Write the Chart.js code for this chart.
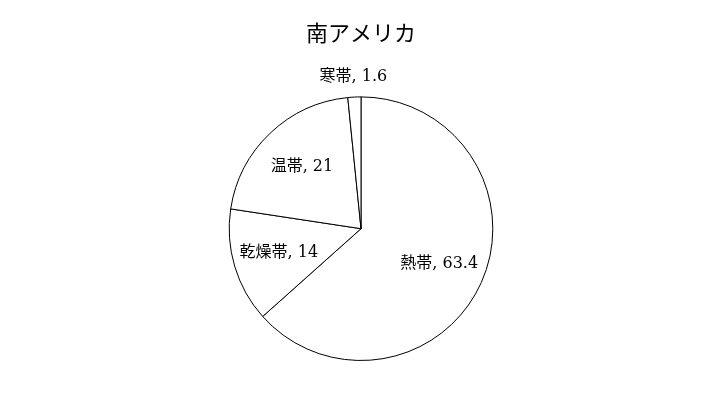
<!DOCTYPE html>
<html>
<head>
<meta charset="utf-8">
<script src="https://cdn.jsdelivr.net/npm/chart.js@4"></script>
<style>
    html, body { margin: 0; padding: 0; background: #fff; }
    #wrap { width: 722px; height: 408px; }
</style>
</head>
<body>
<div id="wrap"><canvas id="pieChart"></canvas></div>
<script>
// Data
const zones = ['熱帯', '乾燥帯', '温帯', '寒帯'];
const shares = [63.4, 14, 21, 1.6];

const TITLE_FONT = '"Liberation Serif", "Noto Sans CJK JP", serif';
const LABEL_FONT = '"DejaVu Serif", "Noto Sans CJK JP", serif';

// Draws "name, value" labels; small slices go outside the pie
const sliceLabels = {
    id: 'sliceLabels',
    afterDatasetsDraw(chart) {
        const ctx = chart.ctx;
        const meta = chart.getDatasetMeta(0);
        ctx.save();
        ctx.font = '16px ' + LABEL_FONT;
        ctx.fillStyle = '#000';
        ctx.textAlign = 'center';
        ctx.textBaseline = 'middle';
        meta.data.forEach((arc, i) => {
            const p = arc.getProps(['x', 'y', 'startAngle', 'endAngle', 'outerRadius']);
            const mid = (p.startAngle + p.endAngle) / 2;
            const small = shares[i] < 5;
            const r = small ? p.outerRadius + 20 : p.outerRadius * 0.65;
            const x = p.x + Math.cos(mid) * r;
            const y = p.y + Math.sin(mid) * r;
            ctx.fillText(zones[i] + ', ' + shares[i], x, y);
        });
        ctx.restore();
    }
};

document.addEventListener('DOMContentLoaded', function () {
    const ctx = document.getElementById('pieChart');

    new Chart(ctx, {
        type: 'pie',
        data: {
            labels: zones,
            datasets: [{
                data: shares,
                backgroundColor: '#fff',
                borderColor: '#000',
                borderWidth: 1
            }]
        },
        options: {
            responsive: true,
            maintainAspectRatio: false,
            animation: false,
            layout: {
                padding: { top: 0, bottom: 47 }
            },
            plugins: {
                legend: { display: false },
                tooltip: { enabled: false },
                title: {
                    display: true,
                    text: '南アメリカ',
                    color: '#000',
                    font: { family: TITLE_FONT, size: 22, weight: 'normal' },
                    padding: { top: 22, bottom: 48 }
                }
            }
        },
        plugins: [sliceLabels]
    });
});
</script>
</body>
</html>
